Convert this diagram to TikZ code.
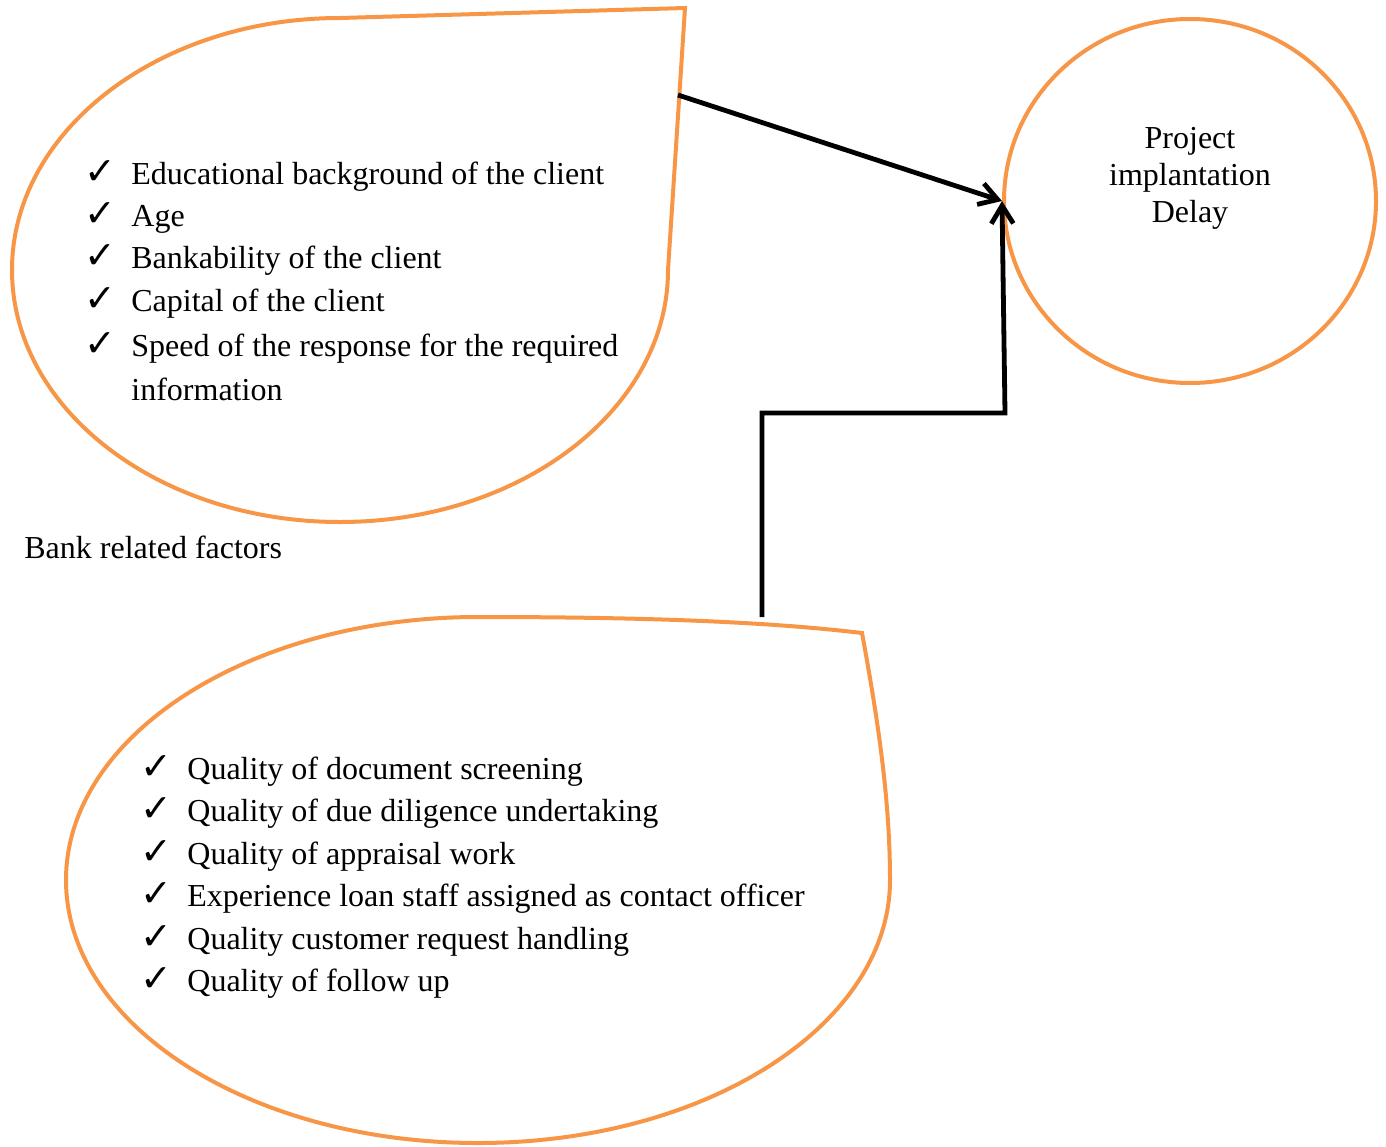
\documentclass[tikz,border=0pt]{standalone}
\usepackage{fontspec}
\setmainfont{Liberation Serif}
\newfontfamily\tickfont{DejaVu Sans}
\usetikzlibrary{arrows.meta,shapes.geometric}
\definecolor{bubbleorange}{RGB}{247,150,70}
\newcommand{\itemtick}{\makebox[23.5pt][l]{\tickfont\fontsize{19}{19}\selectfont ✓}}

\begin{document}
\begin{tikzpicture}[x=0.5pt,y=-0.5pt,
	bubble/.style={draw=bubbleorange,line width=2pt},
	factor/.style={anchor=base west,inner sep=0pt,font=\fontsize{16}{21}\selectfont},
	link/.style={line width=2.4pt,-{Straight Barb[length=9pt,width=11pt]}}]
	\useasboundingbox (0,0) rectangle (1386,1146);
	
	% client related factors
	\draw[bubble] (685,8) -- (668,270) arc[start angle=0,end angle=270,x radius=328,y radius=252] -- cycle;
	\node[factor] (c1) at (84,184) {\itemtick Educational background of the client};
	\node[factor] (c2) at (84,226) {\itemtick Age};
	\node[factor] (c3) at (84,268) {\itemtick Bankability of the client};
	\node[factor] (c4) at (84,311) {\itemtick Capital of the client};
	\node[factor] (c5) at (84,356) {\itemtick Speed of the response for the required};
	\node[factor] (c6) at (131,400) {information};
	
	% bank related factors
	\draw[bubble] (478,617) .. controls (650,617) and (770,622) .. (862,633) .. controls (878,720) and (890,800) .. (890,880) arc[start angle=0,end angle=270,x radius=412,y radius=263] -- cycle;
	\node[factor] (b0) at (24,558) {Bank related factors};
	\node[factor] (b1) at (140,779) {\itemtick Quality of document screening};
	\node[factor] (b2) at (140,821) {\itemtick Quality of due diligence undertaking};
	\node[factor] (b3) at (140,864) {\itemtick Quality of appraisal work};
	\node[factor] (b4) at (140,906) {\itemtick Experience loan staff assigned as contact officer};
	\node[factor] (b5) at (140,949) {\itemtick Quality customer request handling};
	\node[factor] (b6) at (140,991) {\itemtick Quality of follow up};
	
	% outcome
	\node[ellipse,bubble,minimum width=186pt,minimum height=182pt] (delay) at (1190,201) {};
	\node[align=center,font=\fontsize{16}{18.5}\selectfont] (delaytext) at (1190,178) {Project\\implantation\\Delay};
	
	\coordinate (ctail) at (678,95);
	\coordinate (btail) at (762,617);
	\coordinate (bend) at (1005,413);
	\draw[link] (ctail) -- (delay.west);
	\draw[link] (btail) |- (bend) -- (delay.west);
\end{tikzpicture}
\end{document}
